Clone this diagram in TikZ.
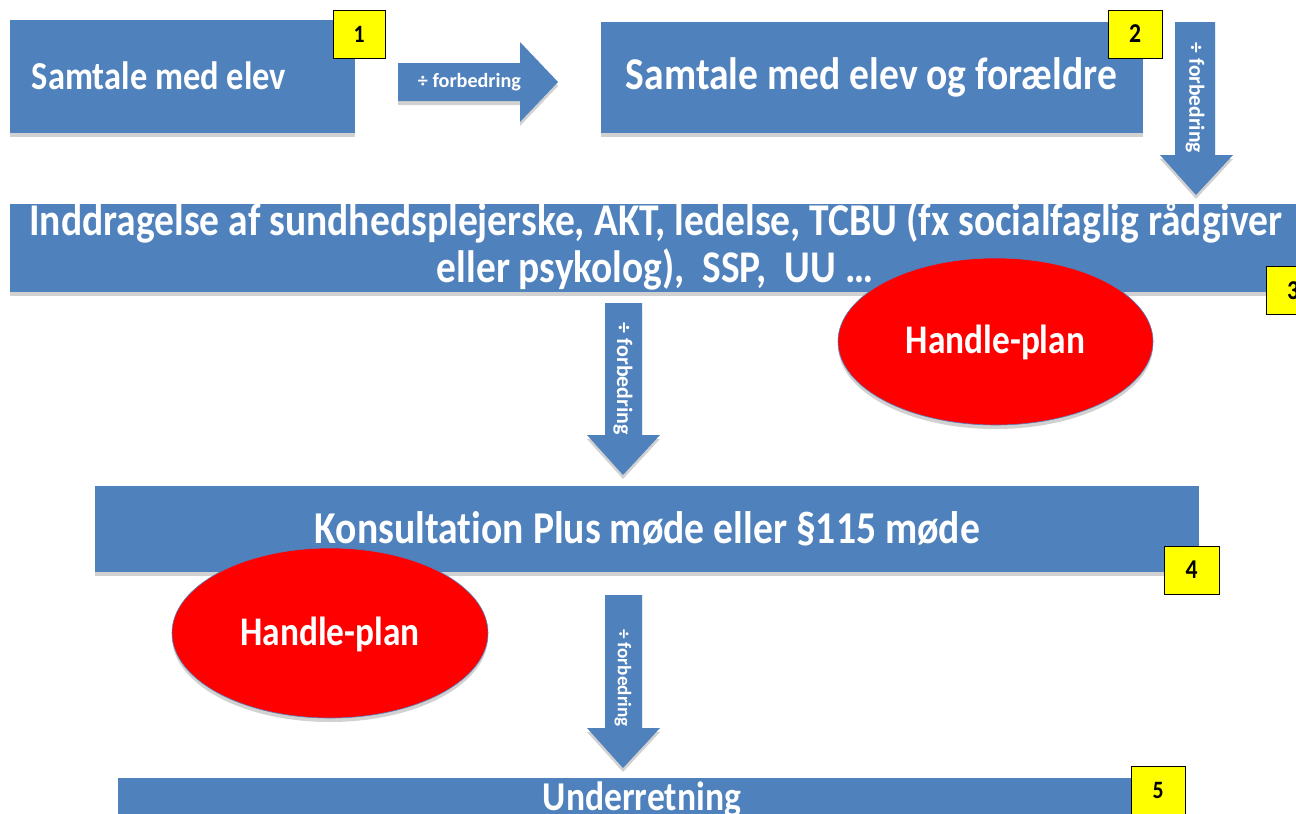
\documentclass[tikz,border=0pt]{standalone}
\usepackage{fontspec}
\setmainfont{Carlito}[Ligatures=NoCommon]
\usetikzlibrary{shadows,shapes.geometric}
\definecolor{boxblue}{RGB}{79,129,189}
\definecolor{badgeyellow}{RGB}{255,255,0}
\newcommand{\vs}{1.15}
\newcommand{\fitw}[2]{\scalebox{1}[\vs]{\resizebox{#1}{!}{#2}}}
\begin{document}
\begin{tikzpicture}[x=1pt,y=-1pt,
  shad/.style={drop shadow={opacity=0.3, shadow xshift=0pt, shadow yshift=-4pt, fill=black!60}},
  box/.style={fill=boxblue, draw=none, inner sep=0pt, shad},
  blockarrow/.style={fill=boxblue, draw=none, shad},
  badge/.style={fill=badgeyellow, draw=black, line width=1pt, inner sep=0pt, text=black},
  plan/.style={ellipse, fill=red, draw=boxblue, line width=0.6pt, inner sep=0pt, shad},
  wtxt/.style={text=white, font=\bfseries, inner sep=0pt, anchor=base},
  lbl/.style={text=white, font=\bfseries, inner sep=0pt}
]
\useasboundingbox (0,0) rectangle (1296,814);
\clip (0,0) rectangle (1296,814);

% boxes
\node[box, minimum width=345pt, minimum height=113pt] (b1) at (182.5,76.5) {};
\node[box, minimum width=542pt, minimum height=111pt] (b2) at (872,77.5) {};
\node[box, minimum width=1300pt, minimum height=88pt] (b3) at (660,248) {};
\node[box, minimum width=1104pt, minimum height=86pt] (b4) at (647,529) {};
\node[box, minimum width=1032pt, minimum height=80pt] (b5) at (634,818) {};

% box texts
\node[wtxt] (t1) at (159,89) {\fitw{254pt}{Samtale med elev}};
\node[wtxt] (t2) at (871.5,89) {\fitw{491pt}{Samtale med elev og forældre}};
\node[wtxt] (t3a) at (656,235) {\fitw{1253pt}{Inddragelse af sundhedsplejerske, AKT, ledelse, TCBU (fx socialfaglig rådgiver}};
\node[wtxt] (t3b) at (655,282) {\fitw{436pt}{eller psykolog),\ \ SSP,\ \ UU …}};
\node[wtxt] (t4) at (647.5,543) {\fitw{665pt}{Konsultation Plus møde eller §115 møde}};
\node[wtxt] (t5) at (642,810) {\fitw{198pt}{Underretning}};

% block arrows
\fill[blockarrow] (398,63) -- (520,63) -- (520,42) -- (558,82) -- (520,122) -- (520,101) -- (398,101) -- cycle;
\node[lbl] (a1) at (469.5,82) {\resizebox{103pt}{!}{÷ forbedring}};

\fill[blockarrow] (1175,22) -- (1215,22) -- (1215,155) -- (1233,155) -- (1196,195) -- (1160,155) -- (1175,155) -- cycle;
\node[lbl, rotate=-90] (a2) at (1195,98) {\resizebox{110pt}{!}{÷ forbedring}};

\fill[blockarrow] (605,303) -- (642,303) -- (642,435) -- (660,435) -- (623,475) -- (587,435) -- (605,435) -- cycle;
\node[lbl, rotate=-90] (a3) at (623,379) {\resizebox{112pt}{!}{÷ forbedring}};

\fill[blockarrow] (605,595) -- (642,595) -- (642,728) -- (660,728) -- (623,768) -- (587,728) -- (605,728) -- cycle;
\node[lbl, rotate=-90] (a4) at (623,678) {\resizebox{98pt}{!}{÷ forbedring}};

% handle-plan ellipses
\node[plan, minimum width=315pt, minimum height=167pt] (h1) at (995.5,341.5) {};
\node[wtxt] (h1t) at (995.5,353) {\fitw{179pt}{Handle-plan}};
\node[plan, minimum width=316pt, minimum height=170pt] (h2) at (330,633) {};
\node[wtxt] (h2t) at (330,645) {\fitw{179pt}{Handle-plan}};

% number badges
\node[badge, minimum width=52pt, minimum height=48pt] (n1) at (359,34) {\fitw{11pt}{\bfseries 1}};
\node[badge, minimum width=54pt, minimum height=48pt] (n2) at (1135,34) {\fitw{12pt}{\bfseries 2}};
\node[badge, minimum width=54pt, minimum height=48pt] (n3) at (1293,290.5) {\fitw{12pt}{\bfseries 3}};
\node[badge, minimum width=55pt, minimum height=48pt] (n4) at (1191.5,570) {\fitw{12pt}{\bfseries 4}};
\node[badge, minimum width=54pt, minimum height=48pt] (n5) at (1158,790) {\fitw{11pt}{\bfseries 5}};
\end{tikzpicture}
\end{document}
